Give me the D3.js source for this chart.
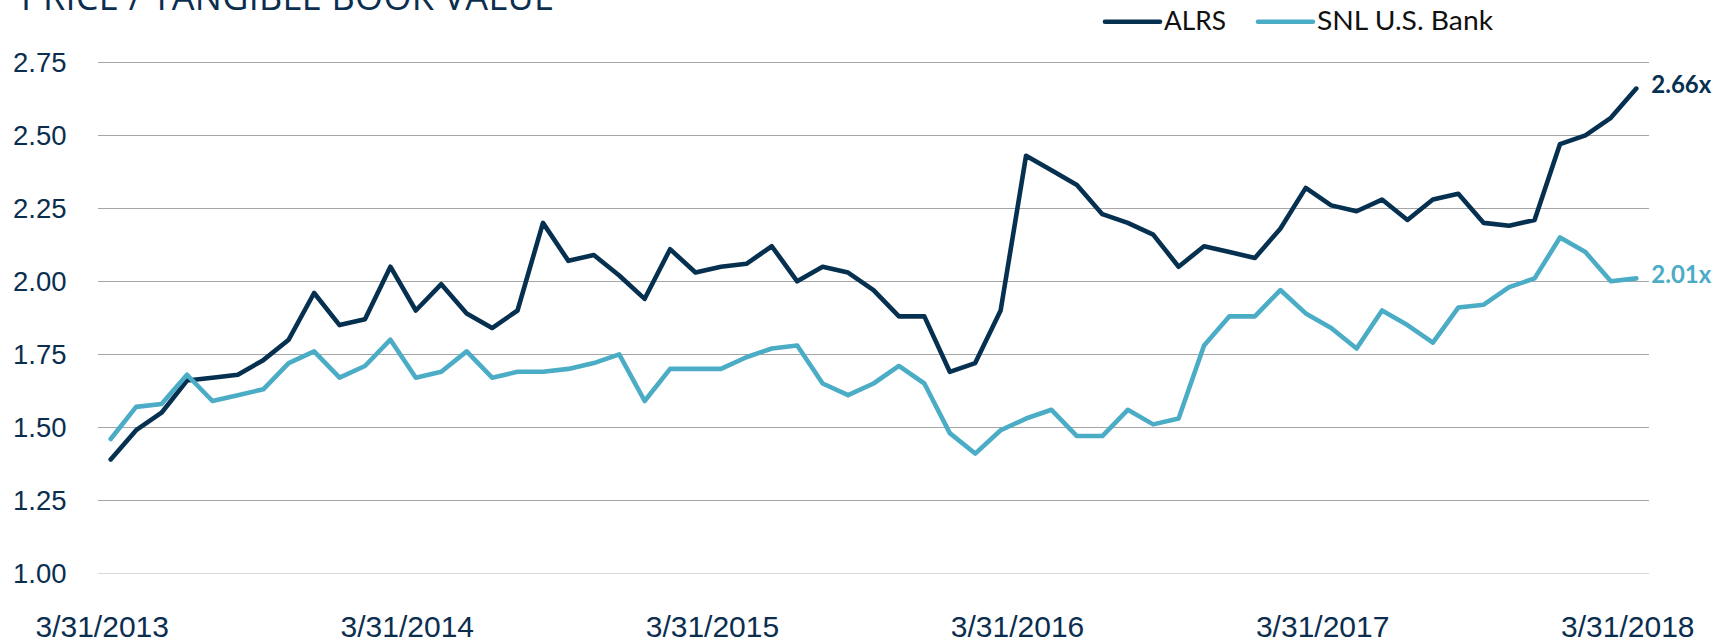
<!DOCTYPE html>
<html lang="en">
<head>
    <meta charset="UTF-8">
    <title>Price / Tangible Book Value</title>
    <style>
        body { margin: 0; background: #fff; }
        svg { display: block; font-family: Lato, "Open Sans", sans-serif; }
        .axis path.domain { display: none; }
        .grid line { stroke: #a6a6a6; stroke-width: 1.3px; shape-rendering: crispEdges; }
        .line { fill: none; stroke-width: 4.6px; stroke-linecap: round; stroke-linejoin: round; }
    </style>
    <script src="https://d3js.org/d3.v7.min.js"></script>
</head>
<body>
    <svg width="1731" height="644"></svg>

    <script>
        // Monthly price / tangible book value, 3/2013 .. 3/2018
        const alrs = [1.39, 1.49, 1.55, 1.66, 1.67, 1.68, 1.73, 1.80, 1.96, 1.85, 1.87, 2.05,
                      1.90, 1.99, 1.89, 1.84, 1.90, 2.20, 2.07, 2.09, 2.02, 1.94, 2.11, 2.03,
                      2.05, 2.06, 2.12, 2.00, 2.05, 2.03, 1.97, 1.88, 1.88, 1.69, 1.72, 1.90,
                      2.43, 2.38, 2.33, 2.23, 2.20, 2.16, 2.05, 2.12, 2.10, 2.08, 2.18, 2.32,
                      2.26, 2.24, 2.28, 2.21, 2.28, 2.30, 2.20, 2.19, 2.21, 2.47, 2.50, 2.56,
                      2.66];
        const snlBank = [1.46, 1.57, 1.58, 1.68, 1.59, 1.61, 1.63, 1.72, 1.76, 1.67, 1.71, 1.80,
                         1.67, 1.69, 1.76, 1.67, 1.69, 1.69, 1.70, 1.72, 1.75, 1.59, 1.70, 1.70,
                         1.70, 1.74, 1.77, 1.78, 1.65, 1.61, 1.65, 1.71, 1.65, 1.48, 1.41, 1.49,
                         1.53, 1.56, 1.47, 1.47, 1.56, 1.51, 1.53, 1.78, 1.88, 1.88, 1.97, 1.89,
                         1.84, 1.77, 1.90, 1.85, 1.79, 1.91, 1.92, 1.98, 2.01, 2.15, 2.10, 2.00,
                         2.01];
        const seriesNames = ["ALRS", "SNL U.S. Bank"];
        const xTickLabels = ["3/31/2013", "3/31/2014", "3/31/2015", "3/31/2016", "3/31/2017", "3/31/2018"];
        const yTicks = [1.00, 1.25, 1.50, 1.75, 2.00, 2.25, 2.50, 2.75];
        const endLabels = ["2.66x", "2.01x"];

        // month-end categories
        const months = d3.utcMonth.range(new Date(Date.UTC(2013, 2, 1)), new Date(Date.UTC(2018, 3, 1)));

        const navy = "#06304f", lightBlue = "#4bacc6", textNavy = "#0b2e4f";

        const svg = d3.select("svg");

        const x = d3.scalePoint()
            .domain(months.map((d, i) => i))
            .range([98, 1649])
            .padding(0.5);
        const y = d3.scaleLinear().domain([1, 2.75]).range([573.3, 62.3]);

        // Title (sits mostly above the frame)
        svg.append("text")
            .attr("x", 21)
            .attr("y", 10)
            .attr("textLength", 533)
            .attr("lengthAdjust", "spacing")
            .style("font-family", "'Open Sans', sans-serif")
            .style("font-size", "36px")
            .style("fill", textNavy)
            .text("PRICE / TANGIBLE BOOK VALUE");

        // Y axis with gridlines
        const yAxis = svg.append("g")
            .attr("class", "axis grid")
            .attr("transform", "translate(98,0)")
            .call(d3.axisLeft(y).tickValues(yTicks).tickFormat(d3.format(".2f"))
                .tickSize(-(1649 - 98)).tickPadding(31.5));
        yAxis.selectAll(".tick line")
            .style("stroke", d => d === 1 ? "#d9d9d9" : "#a6a6a6");
        yAxis.selectAll(".tick text")
            .style("font-size", "27.5px")
            .style("fill", textNavy);

        // X axis labels every 12 months
        const xAxis = svg.append("g")
            .attr("class", "axis")
            .attr("transform", "translate(0,573.3)")
            .call(d3.axisBottom(x)
                .tickValues(d3.range(0, months.length, 12))
                .tickFormat((d, i) => xTickLabels[i])
                .tickSize(0).tickPadding(0));
        xAxis.selectAll(".tick text")
            .attr("dx", -9)
            .attr("dy", 0)
            .attr("y", 64)
            .style("font-size", "30px")
            .style("fill", textNavy);

        // Lines
        const line = d3.line()
            .x((d, i) => x(i))
            .y(d => y(d));

        const series = [alrs, snlBank];
        const colors = [navy, lightBlue];

        svg.selectAll(".line")
            .data(series)
            .join("path")
            .attr("class", "line")
            .style("stroke", (d, i) => colors[i])
            .attr("d", line);

        // End value labels
        svg.selectAll(".end-label")
            .data(series)
            .join("text")
            .attr("class", "end-label")
            .attr("x", d => x(d.length - 1) + 15)
            .attr("y", d => y(d[d.length - 1]) - 4)
            .attr("dy", "0.35em")
            .style("font-size", "24px")
            .style("font-weight", "bold")
            .style("fill", (d, i) => colors[i])
            .text((d, i) => endLabels[i]);

        // Legend
        const legendX = [1105, 1258];
        const legendWidths = [62, 176];
        const legend = svg.selectAll(".legend")
            .data(seriesNames)
            .join("g")
            .attr("class", "legend")
            .attr("transform", (d, i) => "translate(" + legendX[i] + ",21.7)");
        legend.append("line")
            .attr("x1", 0).attr("x2", 55)
            .style("stroke", (d, i) => colors[i])
            .style("stroke-width", 4.6)
            .style("stroke-linecap", "round");
        legend.append("text")
            .attr("x", 59)
            .attr("y", 8.6)
            .attr("textLength", (d, i) => legendWidths[i])
            .attr("lengthAdjust", "spacingAndGlyphs")
            .style("font-size", "27.5px")
            .style("fill", "#111")
            .text(d => d);
    </script>
</body>
</html>
